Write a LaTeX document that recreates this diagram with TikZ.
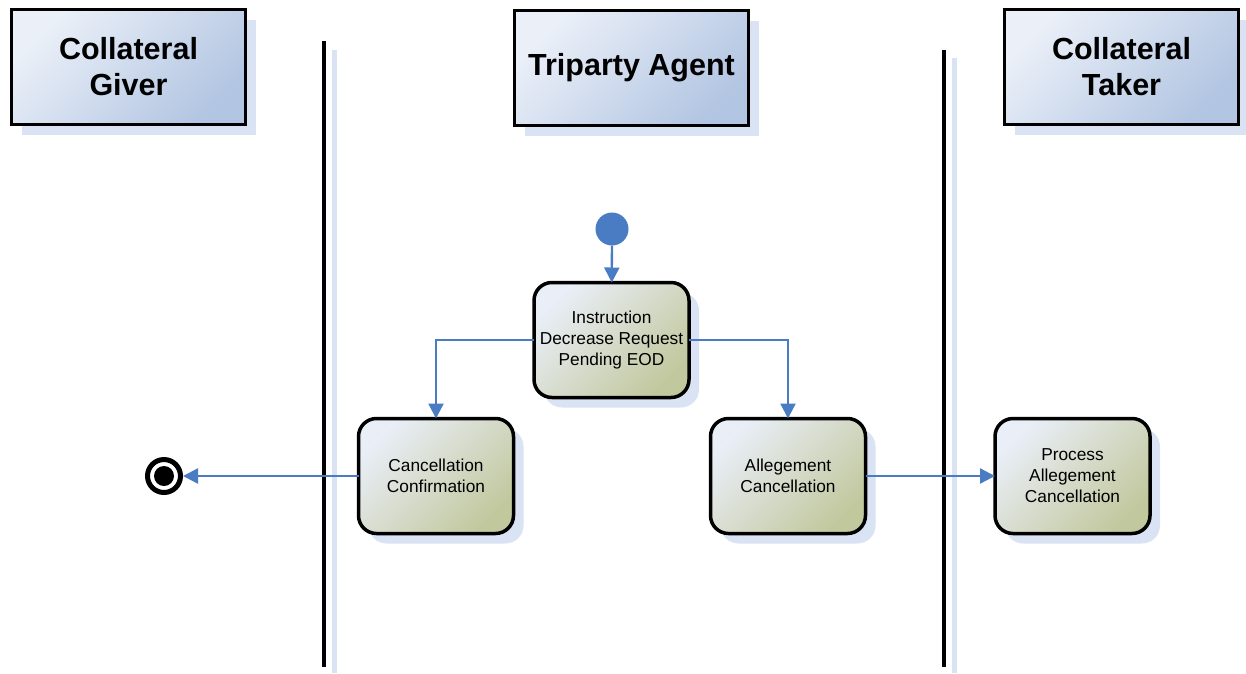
\documentclass[tikz,border=0pt]{standalone}
\usepackage{fontspec}
\setmainfont{Liberation Sans}
\usetikzlibrary{arrows.meta,shadows}
\definecolor{shadowc}{HTML}{DAE3F3}
\definecolor{hdrlight}{HTML}{EBF0F8}
\definecolor{hdrdark}{HTML}{B2C5E2}
\definecolor{boxlight}{HTML}{E9EEF7}
\definecolor{boxdark}{HTML}{C2C89E}
\definecolor{flowblue}{HTML}{4A7CC4}
\tikzset{
  lanehead/.style={draw=black, line width=3.2pt, left color=hdrlight, right color=hdrdark, shading angle=45,
    minimum width=234pt, minimum height=115pt, inner sep=0pt, outer sep=0pt, align=center,
    font=\bfseries\fontsize{30.5}{36}\selectfont,
    general shadow={fill=shadowc, shadow xshift=10pt, shadow yshift=-10pt}},
  activity/.style={draw=black, line width=3.5pt, rounded corners=18pt, left color=boxlight, right color=boxdark, shading angle=45,
    minimum width=155pt, minimum height=115pt, inner sep=0pt, outer sep=0pt, align=center,
    font=\fontsize{17.3}{21}\selectfont,
    general shadow={fill=shadowc, shadow xshift=10pt, shadow yshift=-10pt, rounded corners=18pt}},
  flow/.style={draw=flowblue, line width=2.3pt, -{Triangle[length=15pt,width=15pt]}},
  lane/.style={line width=4pt, black},
  laneshadow/.style={line width=5pt, shadowc},
}
\begin{document}
\begin{tikzpicture}[x=1pt,y=-1pt]
\useasboundingbox (0,0) rectangle (1246,673);
% lane separators
\draw[laneshadow] (334,50) -- (334,673);
\draw[lane] (324,41) -- (324,667);
\draw[laneshadow] (954,58) -- (954,673);
\draw[lane] (944,50) -- (944,667);
% headers
\node[lanehead] (giver) at (128.5,67) {Collateral\\Giver};
\node[lanehead] (agent) at (631.5,68) {Triparty Agent};
\node[lanehead] (taker) at (1121.5,67) {Collateral\\Taker};
% activities
\node[activity] (instr) at (611.5,340) {Instruction\\Decrease Request\\Pending EOD};
\node[activity] (cconf) at (436,476) {Cancellation\\Confirmation};
\node[activity] (alleg) at (788,476) {Allegement\\Cancellation};
\node[activity] (proc) at (1072.5,476) {Process\\Allegement\\Cancellation};
% start / end
\node[circle, fill=flowblue, minimum size=33pt, inner sep=0pt] (start) at (612,229) {};
\node[circle, draw=black, line width=5pt, fill=white, minimum size=33pt, inner sep=0pt,
  path picture={\fill[black] (path picture bounding box.center) circle (10pt);}] (end) at (164,476) {};
% flows
\draw[flow] (start) -- (instr);
\draw[flow] (instr.west) -| (cconf.north);
\draw[flow] (instr.east) -| (alleg.north);
\draw[flow] (cconf.west) -- (end);
\draw[flow] (alleg.east) -- (proc.west);
\end{tikzpicture}
\end{document}
